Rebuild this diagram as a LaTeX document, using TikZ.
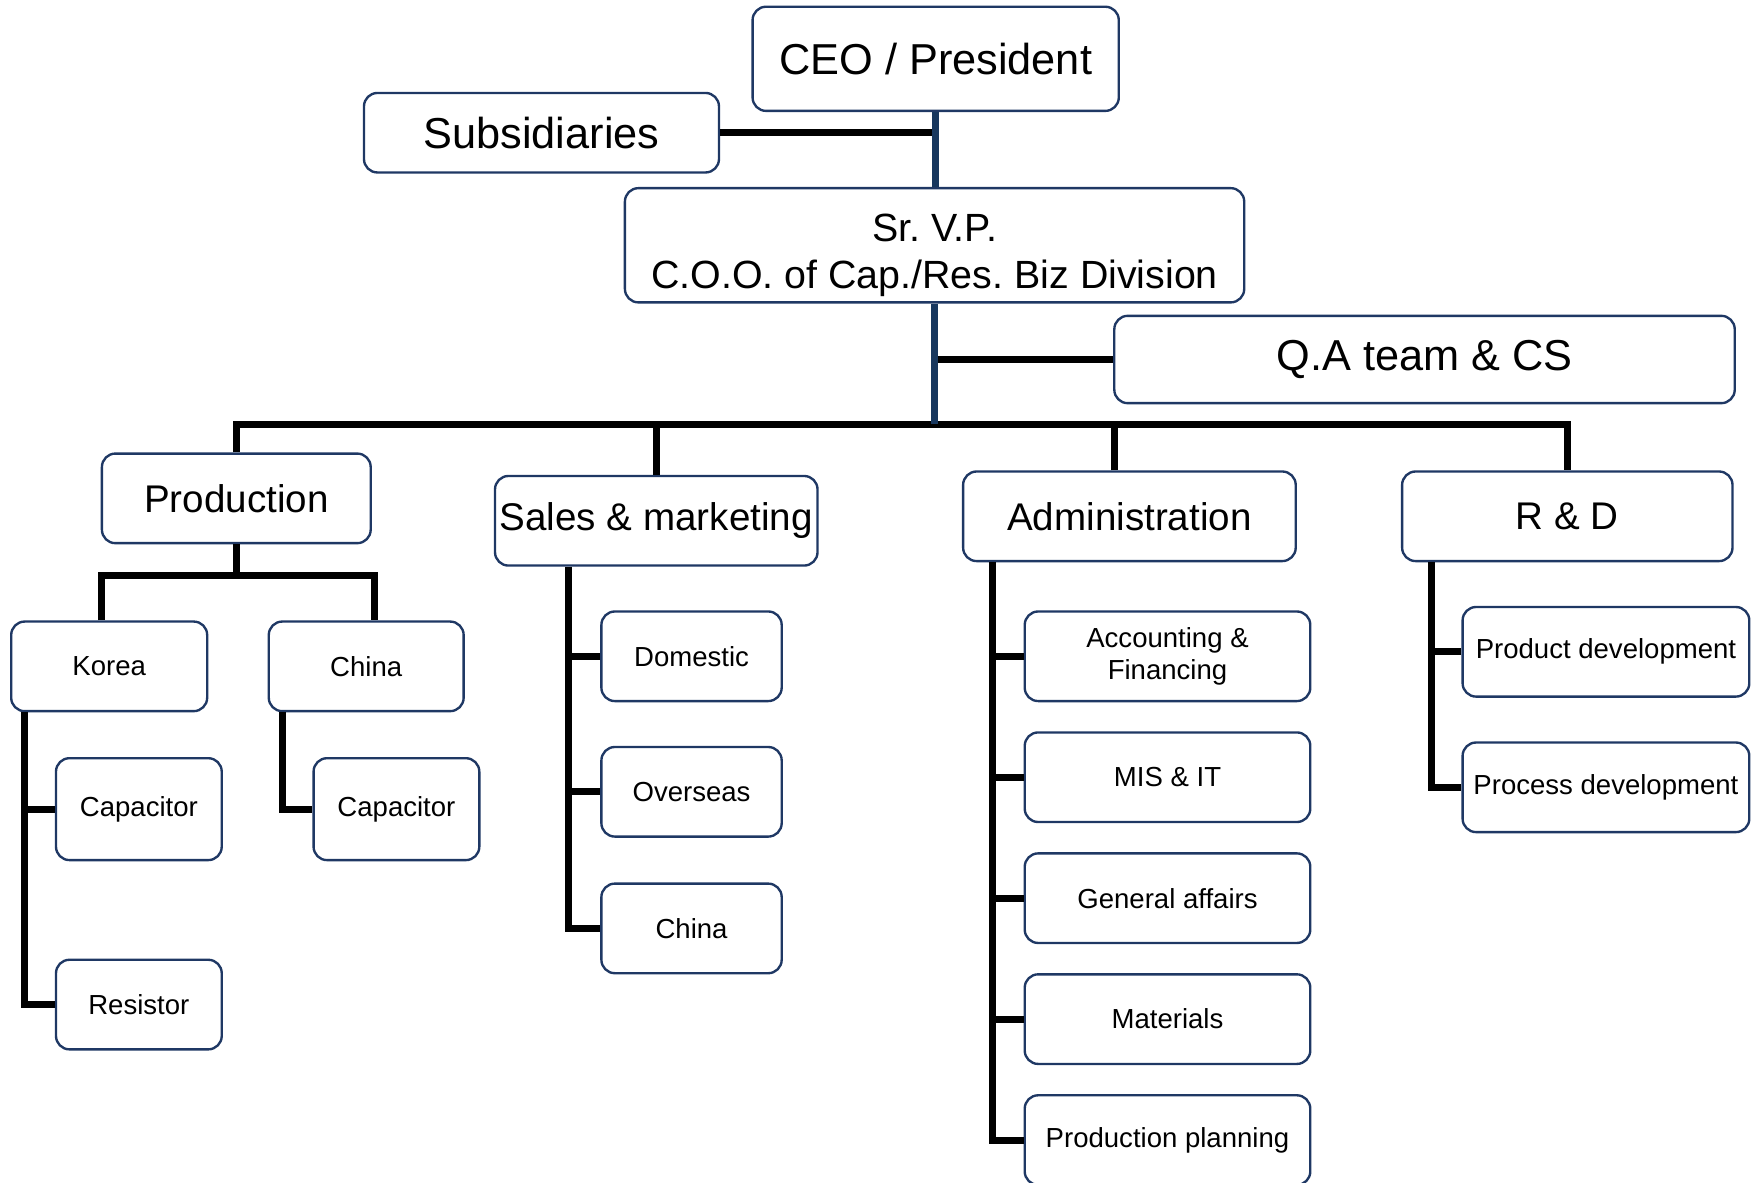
\documentclass[tikz,border=0pt]{standalone}
\usepackage{fontspec}
\setmainfont{Liberation Sans}
\frenchspacing
\definecolor{boxline}{HTML}{1F3864}
\definecolor{trunkblue}{HTML}{17375E}
\tikzset{
	orgnode/.style = {
		align=center,
		inner sep=0pt,
		rectangle,
		rounded corners=0.12cm,
		draw=boxline,
		line width=0.6pt,
		fill=white,
		text=black
	},
	node_top/.style = {
		orgnode,
		font=\fontsize{11}{13}\selectfont
	},
	node_mid/.style = {
		orgnode,
		font=\fontsize{9.8}{12}\selectfont,
		minimum height=0.8cm
	},
	node_sub/.style = {
		orgnode,
		font=\fontsize{7}{8}\selectfont,
		minimum height=0.8cm
	},
	link/.style = {
		line width=1.8pt,
		black
	},
	link_trunk/.style = {
		link,
		trunkblue
	},
}

\begin{document}
\begin{tikzpicture}
\useasboundingbox (0,0) rectangle (15.68,-10.56);

% top of the chart
\node [node_top, minimum width=3.27cm, minimum height=0.93cm] (ceo) at (8.355,-0.525) {CEO / President};
\node [node_top, minimum width=3.17cm, minimum height=0.71cm] (subs) at (4.835,-1.185) {Subsidiaries};
\node [node_top, minimum width=5.53cm, minimum height=1.02cm, font=\fontsize{10}{12}\selectfont] (srvp) at (8.345,-2.19) {\rule{0pt}{0.42cm}Sr. V.P.\\C.O.O. of Cap./Res. Biz Division};
\node [node_top, minimum width=5.54cm, minimum height=0.78cm] (qa) at (12.72,-3.21) {Q.A team \& CS};

% divisions
\node [node_mid, minimum width=2.40cm] (prod) at (2.11,-4.45) {Production};
\node [node_mid, minimum width=2.88cm] (sales) at (5.86,-4.65) {Sales \& marketing};
\node [node_mid, minimum width=2.97cm] (admin) at (10.085,-4.61) {Administration};
\node [node_mid, minimum width=2.95cm] (rnd) at (13.995,-4.61) {R \& D};

% production
\node [node_sub, minimum width=1.75cm] (korea) at (0.975,-5.95) {Korea};
\node [node_sub, minimum width=1.74cm] (pchina) at (3.27,-5.95) {China};
\node [node_sub, minimum width=1.48cm, minimum height=0.91cm] (kcap) at (1.24,-7.225) {Capacitor};
\node [node_sub, minimum width=1.48cm] (kres) at (1.24,-8.97) {Resistor};
\node [node_sub, minimum width=1.48cm, minimum height=0.91cm] (ccap) at (3.54,-7.225) {Capacitor};

% sales
\node [node_sub, minimum width=1.61cm] (dom) at (6.175,-5.86) {Domestic};
\node [node_sub, minimum width=1.61cm] (over) at (6.175,-7.07) {Overseas};
\node [node_sub, minimum width=1.61cm] (schina) at (6.175,-8.29) {China};

% administration
\node [node_sub, minimum width=2.55cm] (acc) at (10.425,-5.86) {Accounting \&\\Financing};
\node [node_sub, minimum width=2.55cm] (mis) at (10.425,-6.94) {MIS \& IT};
\node [node_sub, minimum width=2.55cm] (gen) at (10.425,-8.02) {General affairs};
\node [node_sub, minimum width=2.55cm] (mat) at (10.425,-9.10) {Materials};
\node [node_sub, minimum width=2.55cm] (plan) at (10.425,-10.18) {Production planning};

% r&d
\node [node_sub, minimum width=2.56cm] (prd) at (14.34,-5.82) {Product development};
\node [node_sub, minimum width=2.56cm] (prc) at (14.34,-7.03) {Process development};

% connectors
\coordinate (bar) at (8.33,-3.79);
\draw [link] (subs.east) -- (subs.east -| ceo.south);
\draw [link] (qa.west) -- (qa.west -| srvp.south);
\draw [link] (prod.north) -- (prod.north |- bar) -- (rnd.north |- bar) -- (rnd.north);
\draw [link] (sales.north) -- (sales.north |- bar);
\coordinate (admintop) at ([xshift=-0.135cm]admin.north);
\draw [link] (admintop) -- (admintop |- bar);
\draw [link_trunk] (ceo.south) -- (ceo.south |- srvp.north);
\draw [link_trunk] (srvp.south) -- (srvp.south |- bar);

\draw [link] (prod.south) -- ++(0,-0.30);
\draw [link] ([xshift=-0.065cm]korea.north) -- ++(0,0.40) -| ([xshift=0.07cm]pchina.north);
\coordinate (kline) at ([xshift=0.13cm]korea.south west);
\draw [link] (kline) |- (kres.west);
\draw [link] (kcap.west) -- (kcap.west -| kline);
\draw [link] ([xshift=0.13cm]pchina.south west) |- (ccap.west);

\coordinate (sline) at ([xshift=0.67cm]sales.south west);
\draw [link] (sline) |- (schina.west);
\foreach \n in {dom,over}
	\draw [link] (\n.west) -- (\n.west -| sline);

\coordinate (aline) at ([xshift=0.27cm]admin.south west);
\draw [link] (aline) |- (plan.west);
\foreach \n in {acc,mis,gen,mat}
	\draw [link] (\n.west) -- (\n.west -| aline);

\coordinate (rline) at ([xshift=0.27cm]rnd.south west);
\draw [link] (rline) |- (prc.west);
\draw [link] (prd.west) -- (prd.west -| rline);
\end{tikzpicture}
\end{document}
